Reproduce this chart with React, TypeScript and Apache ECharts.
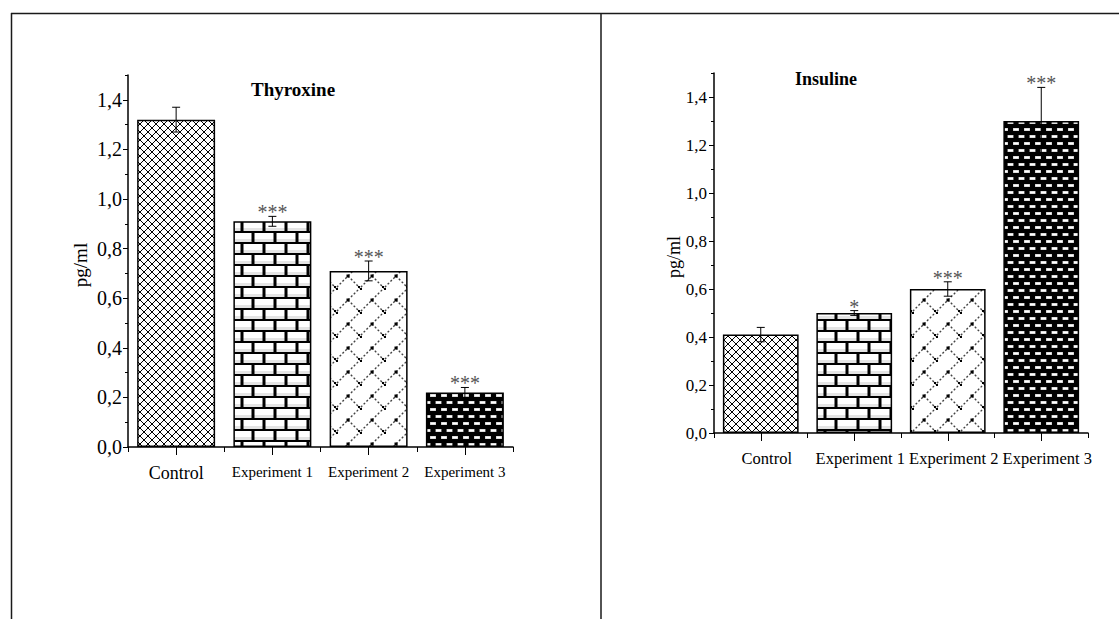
import React, { useEffect, useRef } from 'react';
import * as echarts from 'echarts';

const categories = ['Control', 'Experiment 1', 'Experiment 2', 'Experiment 3'];

const thyroxineMeans = [1.32, 0.91, 0.71, 0.22];
const thyroxineErrors = [0.05, 0.02, 0.04, 0.02];
const thyroxineStars = ['', '***', '***', '***'];

const insulineMeans = [0.41, 0.5, 0.6, 1.3];
const insulineErrors = [0.03, 0.01, 0.03, 0.14];
const insulineStars = ['', '*', '***', '***'];

const titles = ['Thyroxine', 'Insuline'];
const yAxisName = 'pg/ml';
const Y_MIN = 0;
const Y_MAX = 1.5;
const Y_MAJOR = 0.2;
const Y_MINOR = 0.1;

const SERIF = '"Liberation Serif", "Times New Roman", serif';

function mkCanvas(w: number, h: number) {
  const c = document.createElement('canvas');
  c.width = w;
  c.height = h;
  const ctx = c.getContext('2d') as CanvasRenderingContext2D;
  return { c, ctx };
}

function crossHatch() {
  const s = 8;
  const { c, ctx } = mkCanvas(s, s);
  ctx.fillStyle = '#fff';
  ctx.fillRect(0, 0, s, s);
  ctx.strokeStyle = '#000';
  ctx.lineWidth = 1;
  ctx.beginPath();
  ctx.moveTo(-1, -1);
  ctx.lineTo(s + 1, s + 1);
  ctx.moveTo(-1, s + 1);
  ctx.lineTo(s + 1, -1);
  ctx.stroke();
  return { image: c, repeat: 'repeat', imageWidth: s, imageHeight: s };
}

function bricks() {
  const w = 22;
  const h = 22;
  const { c, ctx } = mkCanvas(w, h);
  ctx.fillStyle = '#fff';
  ctx.fillRect(0, 0, w, h);
  ctx.fillStyle = '#e4e4e4';
  ctx.fillRect(0, 8, w, 3);
  ctx.fillRect(0, 19, w, 3);
  ctx.fillStyle = '#000';
  ctx.fillRect(0, 0, w, 2);
  ctx.fillRect(0, 11, w, 2);
  ctx.fillRect(0, 0, 1.5, 11);
  ctx.fillRect(w - 1.5, 0, 1.5, 11);
  ctx.fillRect(9.5, 11, 3, 11);
  return { image: c, repeat: 'repeat', imageWidth: w, imageHeight: h };
}

function diagBricks() {
  const p = 24;
  const { c, ctx } = mkCanvas(p, p);
  ctx.fillStyle = '#fff';
  ctx.fillRect(0, 0, p, p);
  ctx.strokeStyle = '#444';
  ctx.lineWidth = 1.4;
  ctx.setLineDash([2, 2]);
  ctx.beginPath();
  ctx.moveTo(-2, p + 2);
  ctx.lineTo(p + 2, -2);
  ctx.moveTo(p / 2, p / 2);
  ctx.lineTo(p + 1, p + 1);
  ctx.stroke();
  ctx.fillStyle = '#000';
  ctx.fillRect(p / 2 - 1.5, p / 2 - 1.5, 3, 3);
  ctx.fillRect(0, 0, 2, 2);
  ctx.fillRect(p - 2, p - 2, 2, 2);
  return { image: c, repeat: 'repeat', imageWidth: p, imageHeight: p };
}

function dashes() {
  const w = 11;
  const h = 14;
  const { c, ctx } = mkCanvas(w, h);
  ctx.fillStyle = '#000';
  ctx.fillRect(0, 0, w, h);
  ctx.fillStyle = '#bbb';
  ctx.fillRect(1, 2, 6, 3);
  ctx.fillRect(6.5, 9, 4.5, 3);
  ctx.fillRect(0, 9, 1.5, 3);
  ctx.fillStyle = '#fff';
  ctx.fillRect(1.5, 2.5, 5, 2);
  ctx.fillRect(7, 9.5, 4, 2);
  ctx.fillRect(0, 9.5, 1, 2);
  return { image: c, repeat: 'repeat', imageWidth: w, imageHeight: h };
}

const fmt = (v: number) => {
  const r = Math.round(v * 10) / 10;
  if (Math.abs(Math.round(r / Y_MAJOR) * Y_MAJOR - r) > 1e-6 || r > 1.41) return '';
  return r.toFixed(1).replace('.', ',');
};

function errRender(stars: string[], starSize: number) {
  return (params: any, api: any) => {
    const i = api.value(0);
    const v = api.value(1);
    const e = api.value(2);
    const pTop = api.coord([i, v + e]);
    const pBot = api.coord([i, v - e]);
    const x = pTop[0];
    const cw = 4;
    const ls = { stroke: '#000', lineWidth: 1 };
    const children: any[] = [
      { type: 'line', shape: { x1: x, y1: pTop[1], x2: x, y2: pBot[1] }, style: ls },
      { type: 'line', shape: { x1: x - cw, y1: pTop[1], x2: x + cw, y2: pTop[1] }, style: ls },
      { type: 'line', shape: { x1: x - cw, y1: pBot[1], x2: x + cw, y2: pBot[1] }, style: ls },
    ];
    const s = stars[params.dataIndex];
    if (s) {
      children.push({
        type: 'text',
        x,
        y: pTop[1] - 4,
        style: {
          text: s,
          fontSize: starSize,
          fontFamily: SERIF,
          fill: '#555',
          align: 'center',
          verticalAlign: 'middle',
        },
      });
    }
    return { type: 'group', children };
  };
}

export default function App() {
  const ref = useRef<HTMLDivElement>(null);
  useEffect(() => {
    if (!ref.current) return;
    const chart = echarts.init(ref.current, undefined, { renderer: 'svg' });
    const pats = [crossHatch(), bricks(), diagBricks(), dashes()];

    const grids = [
      { left: 128, top: 75, width: 385, height: 372 },
      { left: 714, top: 73, width: 374, height: 360 },
    ];
    const lblStyles = [
      { c: 18, e: 15, margin: 17, shift: 0 },
      { c: 16.5, e: 16.5, margin: 17, shift: 12 },
    ];
    const yLbl = [
      { size: 20, margin: 6 },
      { size: 17, margin: 7 },
    ];

    const xAxes: any[] = [];
    const yAxes: any[] = [];
    grids.forEach((_, g) => {
      const sh = lblStyles[g].shift;
      xAxes.push({
        type: 'category',
        gridIndex: g,
        data: categories,
        position: 'bottom',
        axisLine: { show: true, lineStyle: { color: '#000', width: 1.5 } },
        axisTick: { show: true, alignWithLabel: true, length: 8, lineStyle: { color: '#000', width: 1 } },
        axisLabel: {
          margin: lblStyles[g].margin,
          interval: 0,
          color: '#000',
          fontFamily: SERIF,
          formatter: (v: string) => (v === 'Control' ? `{c|${v}}` : `{e|${v}}`),
          rich: {
            c: { fontSize: lblStyles[g].c, fontFamily: SERIF, color: '#000', padding: [0, 0, 0, sh] },
            e: { fontSize: lblStyles[g].e, fontFamily: SERIF, color: '#000', padding: [0, 0, 0, sh] },
          },
        },
        splitLine: { show: false },
      });
      xAxes.push({
        type: 'category',
        gridIndex: g,
        data: categories,
        position: 'bottom',
        axisLine: { show: false },
        axisTick: { show: true, length: 5, lineStyle: { color: '#000', width: 1 } },
        axisLabel: { show: false },
        splitLine: { show: false },
      });
      yAxes.push({
        type: 'value',
        gridIndex: g,
        position: 'left',
        min: Y_MIN,
        max: Y_MAX,
        interval: Y_MINOR,
        axisLine: { show: true, lineStyle: { color: '#000', width: 1.5 } },
        axisTick: { show: true, length: 3, lineStyle: { color: '#000', width: 1 } },
        axisLabel: { show: false },
        splitLine: { show: false },
      });
      yAxes.push({
        type: 'value',
        gridIndex: g,
        position: 'left',
        min: Y_MIN,
        max: Y_MAX,
        interval: Y_MAJOR,
        axisLine: { show: false },
        axisTick: { show: true, length: 5, lineStyle: { color: '#000', width: 1 } },
        axisLabel: {
          showMaxLabel: false,
          margin: yLbl[g].margin,
          fontSize: yLbl[g].size,
          fontFamily: SERIF,
          color: '#000',
          formatter: fmt,
        },
        splitLine: { show: false },
      });
    });

    const sets = [
      { means: thyroxineMeans, errs: thyroxineErrors, stars: thyroxineStars, starSize: 20 },
      { means: insulineMeans, errs: insulineErrors, stars: insulineStars, starSize: 20 },
    ];
    const series: any[] = [];
    sets.forEach((s, g) => {
      series.push({
        type: 'bar',
        xAxisIndex: g * 2,
        yAxisIndex: g * 2,
        barWidth: '81%',
        data: s.means.map((v, i) => ({
          value: v,
          itemStyle: { color: pats[i], borderColor: '#000', borderWidth: 1.5 },
        })),
      });
      series.push({
        type: 'custom',
        xAxisIndex: g * 2,
        yAxisIndex: g * 2,
        z: 5,
        clip: false,
        renderItem: errRender(s.stars, s.starSize),
        data: s.means.map((v, i) => [i, v, s.errs[i]]),
      });
    });

    const lineStyle = { stroke: '#1a1a1a', lineWidth: 1.5 };
    chart.setOption({
      animation: false,
      grid: grids,
      xAxis: xAxes,
      yAxis: yAxes,
      series,
      graphic: [
        { type: 'line', shape: { x1: 11, y1: 13.5, x2: 1119, y2: 13.5 }, style: lineStyle },
        { type: 'line', shape: { x1: 11.5, y1: 13, x2: 11.5, y2: 619 }, style: lineStyle },
        { type: 'line', shape: { x1: 601, y1: 13, x2: 601, y2: 619 }, style: lineStyle },
        {
          type: 'text',
          x: 293,
          y: 89,
          style: { text: titles[0], fontSize: 19, fontWeight: 'bold', fontFamily: SERIF, fill: '#000', align: 'center', verticalAlign: 'middle' },
        },
        {
          type: 'text',
          x: 826,
          y: 79,
          style: { text: titles[1], fontSize: 18, fontWeight: 'bold', fontFamily: SERIF, fill: '#000', align: 'center', verticalAlign: 'middle' },
        },
        {
          type: 'text',
          x: 80,
          y: 265,
          rotation: Math.PI / 2,
          style: { text: yAxisName, fontSize: 19, fontFamily: SERIF, fill: '#000', align: 'center', verticalAlign: 'middle' },
        },
        {
          type: 'text',
          x: 674,
          y: 257,
          rotation: Math.PI / 2,
          style: { text: yAxisName, fontSize: 18, fontFamily: SERIF, fill: '#000', align: 'center', verticalAlign: 'middle' },
        },
      ],
    });
    return () => chart.dispose();
  }, []);
  return (
    <div
      ref={ref}
      style={{ position: 'absolute', left: 0, top: 0, width: 1119, height: 619, background: '#fff' }}
    />
  );
}
